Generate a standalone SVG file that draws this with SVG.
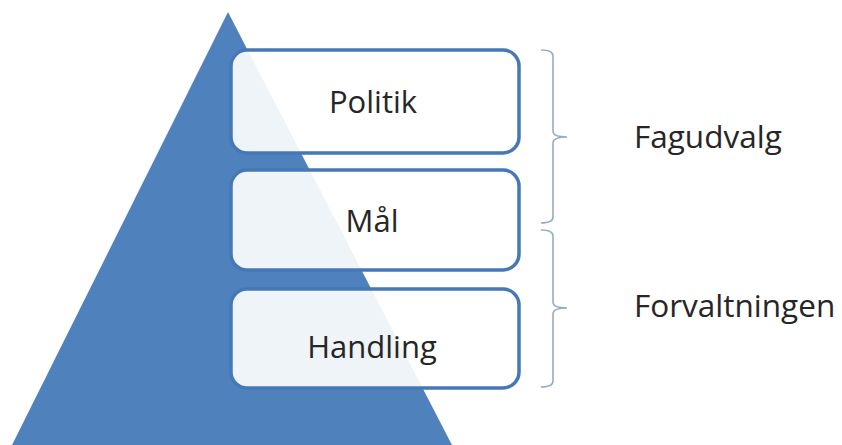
<svg xmlns="http://www.w3.org/2000/svg" width="842" height="445" viewBox="0 0 842 445">
<style>
.box{fill:#ffffff;fill-opacity:0.91;stroke:#4678b6;stroke-width:3.5}
.lbl{font-family:"Open Sans","Noto Sans",sans-serif;font-size:31px;fill:#262626;text-anchor:middle}
.side{font-family:"Open Sans","Noto Sans",sans-serif;font-size:31.5px;fill:#262626}
.brace{fill:none;stroke:#95acc8;stroke-width:1.6}
</style>
<rect width="842" height="445" fill="#ffffff"/>
<g id="pyramid"><polygon points="228,12 452,445 12,445" fill="#4f81bd"/></g>
<g id="politik">
<rect class="box" x="231" y="50" width="288" height="103" rx="16"/>
<text class="lbl" x="373" y="113">Politik</text>
</g>
<g id="maal">
<rect class="box" x="231" y="170" width="288" height="100" rx="16"/>
<text class="lbl" x="372" y="232">Mål</text>
</g>
<g id="handling">
<rect class="box" x="231" y="289" width="288" height="99" rx="16"/>
<text class="lbl" x="372" y="358">Handling</text>
</g>
<g id="connectors">
<path class="brace" d="M541,50 Q553,50 553,56 L553,131 Q553,137 567,137 Q553,137 553,143 L553,217 Q553,223 541,223"/>
<path class="brace" d="M541,230 Q553,230 553,236 L553,302 Q553,308 567,308 Q553,308 553,314 L553,381 Q553,387 541,387"/>
</g>
<g id="fagudvalg"><text class="side" x="634" y="148">Fagudvalg</text></g>
<g id="forvaltningen"><text class="side" x="634" y="317">Forvaltningen</text></g>
</svg>
